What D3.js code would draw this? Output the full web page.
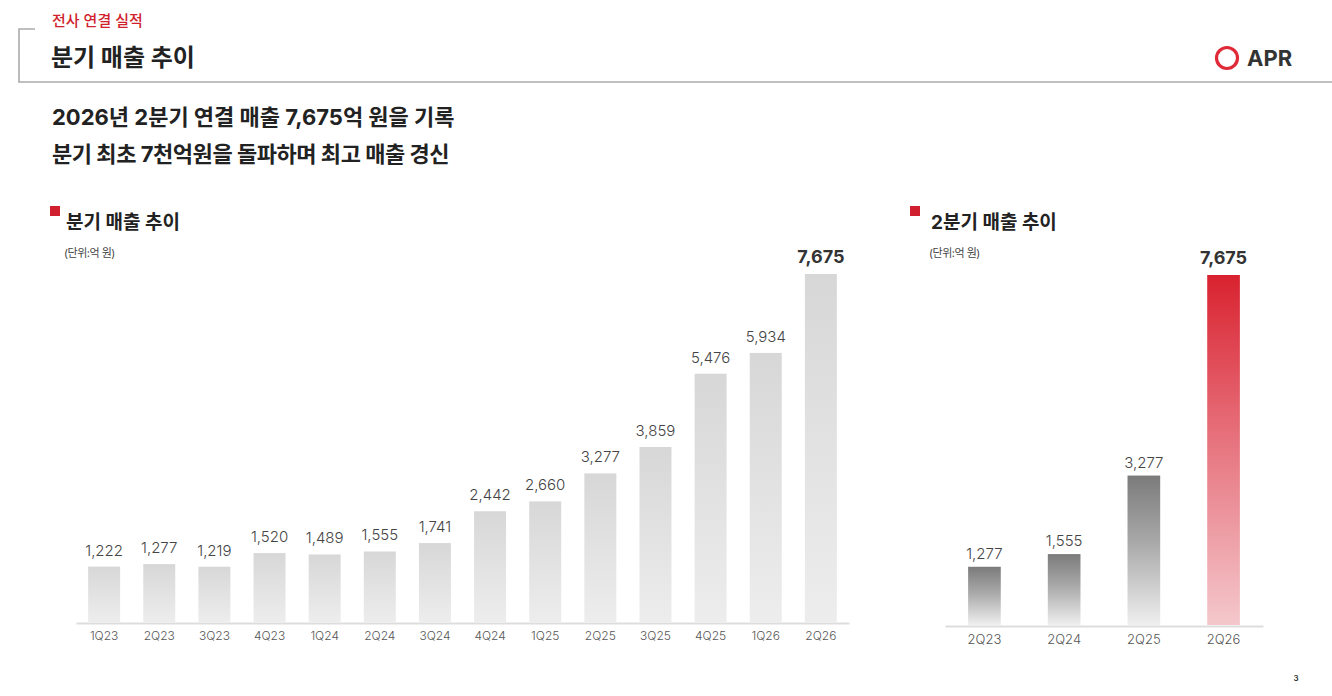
<!DOCTYPE html>
<html lang="ko">
<head>
<meta charset="utf-8">
<script src="https://cdn.jsdelivr.net/npm/d3@7.9.0/dist/d3.min.js"></script>
<style>
  html, body { margin: 0; padding: 0; background: #fff; }
  svg { display: block; font-family: "Inter", "Noto Sans CJK KR", sans-serif; }
</style>
</head>
<body>
<svg id="chart" width="1332" height="696"></svg>
<script>
// quarterly revenue (unit: 100M KRW)
const quarters = ['1Q23', '2Q23', '3Q23', '4Q23', '1Q24', '2Q24', '3Q24', '4Q24', '1Q25', '2Q25', '3Q25', '4Q25', '1Q26', '2Q26'];
const revenue = [1222, 1277, 1219, 1520, 1489, 1555, 1741, 2442, 2660, 3277, 3859, 5476, 5934, 7675];

// 2Q comparison
const q2Labels = ['2Q23', '2Q24', '2Q25', '2Q26'];
const q2Revenue = [1277, 1555, 3277, 7675];

const fmt = d3.format(',');
const svg = d3.select('#chart');
const defs = svg.append('defs');

function grad(id, stops) {
  let g = defs.append('linearGradient').attr('id', id)
    .attr('x1', 0).attr('y1', 0).attr('x2', 0).attr('y2', 1);
  stops.forEach(([o, c]) => g.append('stop').attr('offset', o).attr('stop-color', c));
}
grad('gLight', [[0, '#d7d7d7'], [1, '#ededed']]);
grad('gDark', [[0, '#7b7b7b'], [0.45, '#a9a9a9'], [1, '#efefef']]);
grad('gRed', [[0, '#d9222f'], [0.45, '#e66f7a'], [1, '#f4c8cc']]);

// ---- header ----
svg.append('path')
  .attr('d', 'M35,29 H19 V82 H1332')
  .attr('fill', 'none').attr('stroke', '#aaa').attr('stroke-width', 1.6);
svg.append('text').attr('x', 52).attr('y', 26)
  .attr('fill', '#d01f2e').attr('font-size', 15).attr('font-weight', 500)
  .text('전사 연결 실적');
svg.append('text').attr('x', 51).attr('y', 66)
  .attr('fill', '#222').attr('font-size', 24).attr('font-weight', 700)
  .text('분기 매출 추이');

// logo
svg.append('circle').attr('cx', 1227).attr('cy', 58).attr('r', 10.5)
  .attr('fill', 'none').attr('stroke', '#e02a38').attr('stroke-width', 3.2);
svg.append('text').attr('x', 1247).attr('y', 66)
  .attr('fill', '#333').attr('font-size', 22).attr('font-weight', 700)
  .text('APR');

// headline
svg.append('text').attr('x', 52).attr('y', 125)
  .attr('fill', '#222').attr('font-size', 22).attr('font-weight', 700)
  .text('2026년 2분기 연결 매출 7,675억 원을 기록');
svg.append('text').attr('x', 52).attr('y', 162)
  .attr('fill', '#222').attr('font-size', 22).attr('font-weight', 700)
  .attr('letter-spacing', -0.45)
  .text('분기 최초 7천억원을 돌파하며 최고 매출 경신');

function sectionTitle(x, dx, title) {
  svg.append('rect').attr('x', x).attr('y', 206).attr('width', 10).attr('height', 10).attr('fill', '#d01f2e');
  svg.append('text').attr('x', x + dx).attr('y', 229)
    .attr('fill', '#222').attr('font-size', 19).attr('font-weight', 700).text(title);
  svg.append('text').attr('x', x + dx - 2).attr('y', 257)
    .attr('fill', '#444').attr('font-size', 11).attr('letter-spacing', -0.5).text('(단위:억 원)');
}
sectionTitle(50, 16, '분기 매출 추이');
sectionTitle(910, 21, '2분기 매출 추이');

// ---- left chart ----
const x1 = d3.scaleBand().domain(quarters).range([76, 849]).paddingInner(0.42).paddingOuter(0.22);
const y1 = d3.scaleLinear().domain([0, d3.max(revenue)]).range([622, 274]);

const left = svg.append('g');
left.selectAll('rect.bar').data(revenue).join('rect')
  .attr('class', 'bar')
  .attr('x', (d, i) => x1(quarters[i]))
  .attr('y', d => y1(d))
  .attr('width', x1.bandwidth())
  .attr('height', d => y1(0) - y1(d))
  .attr('fill', 'url(#gLight)');

left.selectAll('text.val').data(revenue).join('text')
  .attr('class', 'val')
  .attr('x', (d, i) => x1(quarters[i]) + x1.bandwidth() / 2)
  .attr('y', d => y1(d) - 11)
  .attr('text-anchor', 'middle')
  .attr('fill', (d, i) => i === revenue.length - 1 ? '#333' : '#444')
  .attr('font-size', (d, i) => i === revenue.length - 1 ? 18 : 15)
  .attr('font-weight', (d, i) => i === revenue.length - 1 ? 700 : 300)
  .text(d => fmt(d));

const axis1 = left.append('g').attr('transform', 'translate(0,623)')
  .call(d3.axisBottom(x1).tickSize(0).tickPadding(8));
axis1.select('.domain').attr('stroke', '#ddd').attr('stroke-width', 2);
axis1.selectAll('text').attr('fill', '#555').attr('font-size', 12).attr('font-weight', 300)
  .attr('font-family', '"Inter", "Noto Sans CJK KR", sans-serif');

// ---- right chart ----
const x2 = d3.scaleBand().domain(q2Labels).range([945, 1263]).paddingInner(0.59).paddingOuter(0.29);
const y2 = d3.scaleLinear().domain([0, d3.max(q2Revenue)]).range([625, 275]);

const right = svg.append('g');
right.selectAll('rect.bar').data(q2Revenue).join('rect')
  .attr('class', 'bar')
  .attr('x', (d, i) => x2(q2Labels[i]))
  .attr('y', d => y2(d))
  .attr('width', x2.bandwidth())
  .attr('height', d => y2(0) - y2(d))
  .attr('fill', (d, i) => i === q2Revenue.length - 1 ? 'url(#gRed)' : 'url(#gDark)');

right.selectAll('text.val').data(q2Revenue).join('text')
  .attr('class', 'val')
  .attr('x', (d, i) => x2(q2Labels[i]) + x2.bandwidth() / 2)
  .attr('y', (d, i) => y2(d) - (i === q2Revenue.length - 1 ? 11 : 8))
  .attr('text-anchor', 'middle')
  .attr('fill', (d, i) => i === q2Revenue.length - 1 ? '#333' : '#444')
  .attr('font-size', (d, i) => i === q2Revenue.length - 1 ? 18 : 15)
  .attr('font-weight', (d, i) => i === q2Revenue.length - 1 ? 700 : 300)
  .text(d => fmt(d));

const axis2 = right.append('g').attr('transform', 'translate(0,626)')
  .call(d3.axisBottom(x2).tickSize(0).tickPadding(9));
axis2.select('.domain').attr('stroke', '#ddd').attr('stroke-width', 2);
axis2.selectAll('text').attr('fill', '#555').attr('font-size', 13).attr('font-weight', 300)
  .attr('font-family', '"Inter", "Noto Sans CJK KR", sans-serif');

// page number
svg.append('text').attr('x', 1296).attr('y', 681).attr('text-anchor', 'middle')
  .attr('fill', '#333').attr('font-size', 8).attr('font-weight', 600).text('3');
</script>
</body>
</html>
